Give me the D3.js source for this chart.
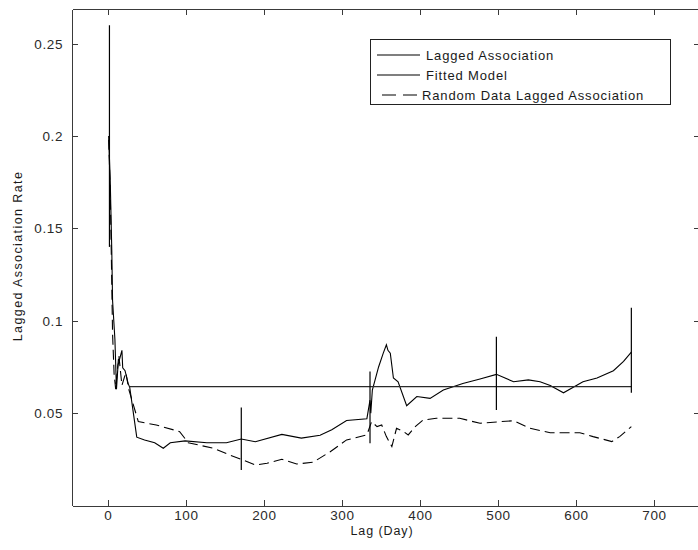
<!DOCTYPE html>
<html lang="en">
<head>
<meta charset="utf-8">
<title>Lagged Association Rate</title>
<style>
    body { margin: 0; background: #fff; }
    svg { display: block; }
    .axis path, .axis line { stroke: #3a3a3a; stroke-width: 1px; shape-rendering: crispEdges; }
    .axis text { font-family: "Liberation Sans", Arial, sans-serif; font-size: 13.5px; fill: #2a2a2a; letter-spacing: 0.6px; }
    .series { fill: none; stroke: #000; stroke-width: 1.1px; }
    .label { font-family: "Liberation Sans", Arial, sans-serif; font-size: 12.5px; fill: #1a1a1a; }
    .legend text { font-family: "Liberation Sans", Arial, sans-serif; font-size: 13px; fill: #1a1a1a; letter-spacing: 0.85px; }
</style>
</head>
<body>
<script src="https://cdn.jsdelivr.net/npm/d3@7"></script>
<script>
    // lagged association (solid)
    let lagDays = [1, 3, 4, 5, 6, 9, 11, 13, 18, 19, 22, 26, 28, 32, 37, 47, 60, 71, 80, 99,
        127, 152, 171, 189, 223, 248, 272, 287, 306, 332, 336, 337, 339, 347, 353, 357, 359, 362,
        366, 372, 383, 396, 413, 430, 455, 477, 498, 520, 539, 554, 567, 584, 609, 627, 648, 661, 671];
    let lagValues = [0.200, 0.176, 0.157, 0.138, 0.111, 0.090, 0.063, 0.076, 0.084, 0.0745, 0.073,
        0.066, 0.064, 0.052, 0.037, 0.0355, 0.034, 0.031, 0.034, 0.035,
        0.034, 0.034, 0.036, 0.0345, 0.0385, 0.0365, 0.038, 0.041, 0.046, 0.047, 0.057, 0.050,
        0.0625, 0.075, 0.0825, 0.087, 0.084, 0.0825,
        0.069, 0.067, 0.054, 0.059, 0.058, 0.0625, 0.066, 0.0685, 0.071, 0.067, 0.068, 0.067,
        0.065, 0.061, 0.067, 0.069, 0.073, 0.078, 0.083];

    // fitted model
    let fitDays = [28, 671];
    let fitValues = [0.0644, 0.0644];

    // random data lagged association (dashed)
    let randDays = [1, 3, 4.5, 6, 8, 10, 14, 18, 23, 27, 32, 39, 62, 92, 103, 135, 156, 171, 189,
        204, 223, 242, 263, 285, 306, 332, 338, 345, 351, 357, 364, 370, 379, 385, 394, 404, 421,
        451, 477, 503, 520, 541, 567, 605, 622, 646, 656, 671];
    let randValues = [0.198, 0.171, 0.133, 0.093, 0.071, 0.063, 0.0815, 0.065, 0.072, 0.0626,
        0.0554, 0.0454, 0.0436, 0.040, 0.034, 0.031, 0.0274, 0.025, 0.0219,
        0.0229, 0.025, 0.0225, 0.0234, 0.0291, 0.0355, 0.0382, 0.0454, 0.0427, 0.0436, 0.0373,
        0.0319, 0.0418, 0.040, 0.0382, 0.0427, 0.0463, 0.0472,
        0.0472, 0.0445, 0.0454, 0.0459, 0.0418, 0.0394, 0.0394, 0.0373, 0.0346, 0.0373, 0.0427];

    // error bars on the lagged association
    let errDays = [2, 171, 336, 498, 671];
    let errLow = [0.14, 0.0192, 0.0337, 0.0517, 0.061];
    let errHigh = [0.26, 0.053, 0.0725, 0.0914, 0.107];

    let xTicks = [0, 100, 200, 300, 400, 500, 600, 700];
    let yTicks = [0.05, 0.1, 0.15, 0.2, 0.25];
    let legendLabels = ["Lagged Association", "Fitted Model", "Random Data Lagged Association"];

    let width = 698, height = 550;
    let plot = { left: 72, right: 700, top: 9, bottom: 505.5 };

    let svg = d3.select("body").append("svg")
        .attr("width", width)
        .attr("height", height);

    let x = d3.scaleLinear().domain([-46, 759]).range([plot.left, plot.right]);
    let y = d3.scaleLinear().domain([0, 0.2688]).range([plot.bottom, plot.top]);

    // axes, ticks point inward like the original
    svg.append("g").attr("class", "axis")
        .attr("transform", "translate(0," + plot.bottom + ")")
        .call(d3.axisBottom(x).tickValues(xTicks).tickSize(-6).tickSizeOuter(0).tickPadding(5)
            .tickFormat(d3.format("d")));
    svg.append("g").attr("class", "axis")
        .attr("transform", "translate(0," + plot.top + ")")
        .call(d3.axisTop(x).tickValues(xTicks).tickSize(-6).tickSizeOuter(0).tickFormat(""));
    svg.append("g").attr("class", "axis")
        .attr("transform", "translate(" + plot.left + ",0)")
        .call(d3.axisLeft(y).tickValues(yTicks).tickSize(-6).tickSizeOuter(0).tickPadding(9)
            .tickFormat(function(d) { return String(d); }));
    svg.append("g").attr("class", "axis")
        .attr("transform", "translate(" + plot.right + ",0)")
        .call(d3.axisRight(y).tickValues(yTicks).tickSize(-6).tickSizeOuter(0).tickFormat(""));

    let line = d3.line()
        .x(function(d) { return x(d[0]); })
        .y(function(d) { return y(d[1]); });

    svg.append("path").attr("class", "series")
        .attr("d", line(d3.zip(randDays, randValues)))
        .attr("stroke-dasharray", "10,5");

    svg.append("path").attr("class", "series")
        .attr("d", line(d3.zip(lagDays, lagValues)));

    svg.append("path").attr("class", "series")
        .attr("d", line(d3.zip(fitDays, fitValues)))
        .style("stroke", "#2a2a2a")
        .style("stroke-width", "1.3px");

    svg.append("g").selectAll("line")
        .data(d3.range(errDays.length))
        .enter().append("line")
        .attr("x1", function(i) { return x(errDays[i]); })
        .attr("x2", function(i) { return x(errDays[i]); })
        .attr("y1", function(i) { return y(errLow[i]); })
        .attr("y2", function(i) { return y(errHigh[i]); })
        .attr("stroke", "#000")
        .attr("stroke-width", 1.2);

    // axis titles
    svg.append("text").attr("class", "label")
        .attr("x", (plot.left + plot.right) / 2 - 4)
        .attr("y", 535)
        .attr("text-anchor", "middle")
        .style("letter-spacing", "0.9px")
        .text("Lag (Day)");

    svg.append("text").attr("class", "label")
        .attr("transform", "translate(22," + 256 + ") rotate(-90)")
        .attr("text-anchor", "middle")
        .style("letter-spacing", "1.4px")
        .text("Lagged Association Rate");

    // legend
    let legend = svg.append("g").attr("class", "legend");
    legend.append("rect")
        .attr("x", 370.5).attr("y", 39.5)
        .attr("width", 300).attr("height", 65)
        .attr("fill", "#fff")
        .attr("stroke", "#222")
        .attr("shape-rendering", "crispEdges");

    legendLabels.forEach(function(name, i) {
        let ly = 55 + i * 20;
        legend.append("line")
            .attr("x1", i === 2 ? 382 : 377).attr("x2", i === 2 ? 418 : 420)
            .attr("y1", ly).attr("y2", ly)
            .attr("stroke", "#000")
            .attr("stroke-width", 1.1)
            .attr("stroke-dasharray", i === 2 ? "14,7" : null);
        legend.append("text")
            .attr("x", i === 2 ? 422 : 426)
            .attr("y", ly)
            .attr("dy", "0.35em")
            .text(name);
    });
</script>
</body>
</html>
